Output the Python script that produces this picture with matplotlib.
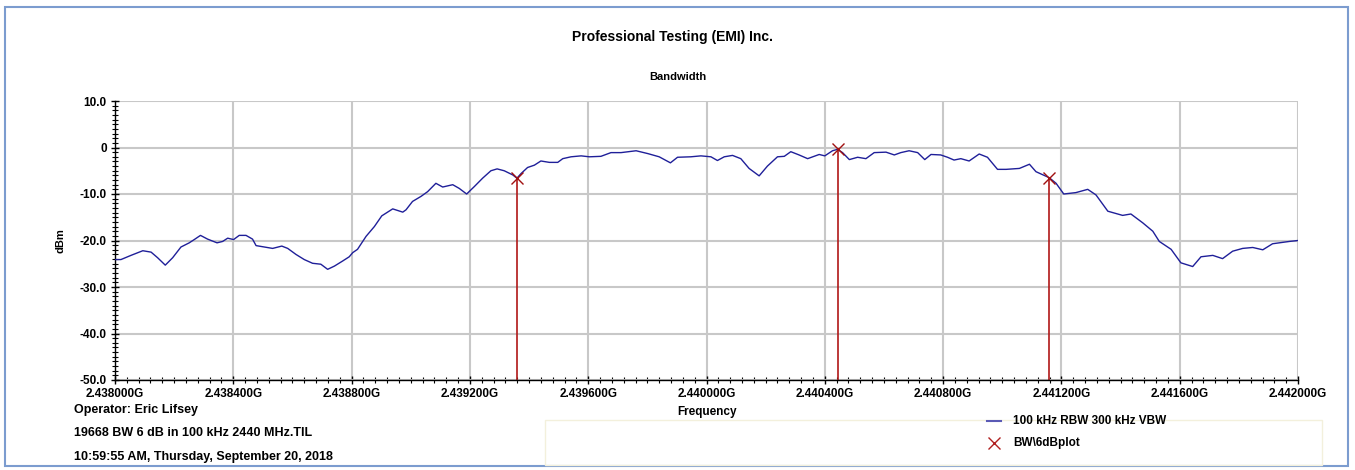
import numpy as np
import matplotlib.pyplot as plt
from matplotlib.patches import Rectangle
from matplotlib.ticker import MultipleLocator, FuncFormatter
from matplotlib.lines import Line2D

plt.rcParams['font.family'] = ['Liberation Sans', 'DejaVu Sans']
plt.rcParams['font.weight'] = 'bold'

base_mhz = 2438.0

# trace: offset from 2.438 GHz [kHz] and level [dBm]
trace_khz = [0, 20, 54, 94, 122, 144, 170, 195, 223, 251, 268, 289, 313, 345, 364, 381,
             401, 420, 443, 465, 477, 505, 533, 564, 584, 612, 640, 668, 696, 719, 742,
             770, 792, 804, 820, 849, 877, 902, 939, 973, 984, 1006, 1035, 1057, 1085,
             1108, 1142, 1164, 1189, 1215, 1243, 1271, 1292, 1316, 1345, 1359, 1373, 1395,
             1418, 1440, 1469, 1497, 1514, 1542, 1576, 1604, 1643, 1677, 1711, 1762, 1801,
             1840, 1878, 1902, 1947, 1981, 2015, 2037, 2060, 2088, 2116, 2144, 2178, 2206,
             2240, 2263, 2285, 2313, 2342, 2381, 2400, 2426, 2443, 2460, 2483, 2511, 2539,
             2567, 2607, 2635, 2657, 2685, 2714, 2738, 2759, 2792, 2815, 2837, 2860, 2888,
             2922, 2950, 2984, 3013, 3058, 3092, 3114, 3159, 3182, 3208, 3249, 3289, 3317,
             3357, 3407, 3435, 3475, 3509, 3531, 3571, 3604, 3644, 3672, 3712, 3745, 3779,
             3813, 3847, 3881, 3914, 3948, 3971, 4000]
trace_dbm = [-24.1, -24.1, -23.2, -22.2, -22.5, -23.7, -25.3, -23.7, -21.4, -20.5, -19.8,
             -18.9, -19.7, -20.5, -20.2, -19.5, -19.8, -18.9, -18.9, -19.7, -21.1, -21.4,
             -21.7, -21.2, -21.7, -23.0, -24.1, -24.9, -25.1, -26.2, -25.5, -24.4, -23.5,
             -22.6, -21.9, -19.1, -17.0, -14.7, -13.2, -13.9, -13.4, -11.6, -10.5, -9.5,
             -7.7, -8.5, -8.0, -8.8, -10.0, -8.4, -6.6, -5.0, -4.6, -5.0, -5.9, -6.6, -5.6,
             -4.3, -3.8, -2.9, -3.2, -3.2, -2.4, -2.0, -1.8, -2.0, -1.9, -1.1, -1.1, -0.7,
             -1.3, -2.0, -3.3, -2.1, -2.0, -1.8, -2.0, -2.8, -2.0, -1.7, -2.4, -4.5, -6.1,
             -4.0, -2.0, -1.9, -0.9, -1.6, -2.4, -1.5, -1.8, -0.7, -0.4, -1.1, -2.6, -2.1,
             -2.4, -1.1, -1.0, -1.6, -1.1, -0.7, -1.1, -2.6, -1.5, -1.6, -2.1, -2.7, -2.4,
             -2.9, -1.4, -2.1, -4.7, -4.7, -4.5, -3.6, -5.2, -6.5, -7.7, -10.0, -9.7, -9.0,
             -10.2, -13.7, -14.6, -14.3, -16.2, -18.0, -20.2, -21.9, -24.8, -25.6, -23.5,
             -23.2, -23.9, -22.3, -21.7, -21.5, -22.0, -20.7, -20.4, -20.2, -20.0]

# 6 dB bandwidth markers
marker_khz = [1359, 2443, 3159]
marker_dbm = [-6.6, -0.4, -6.5]

trace_label = "100 kHz RBW 300 kHz VBW"
marker_label = "BW\\6dBplot"
info_lines = ["Operator: Eric Lifsey",
              "19668 BW 6 dB in 100 kHz 2440 MHz.TIL",
              "10:59:55 AM, Thursday, September 20, 2018"]

trace_f = base_mhz + np.array(trace_khz) / 1000.0
marker_f = base_mhz + np.array(marker_khz) / 1000.0

fig = plt.figure(figsize=(13.55, 4.70), dpi=100)
fig.patches.append(Rectangle((5 / 1355, 4 / 470), 1343 / 1355, 459 / 470,
                             transform=fig.transFigure, fill=False,
                             edgecolor='#7c9ccf', linewidth=1.5))

ax = fig.add_axes([115 / 1355, 1 - 380 / 470, 1183 / 1355, 279 / 470])

ax.plot(trace_f, trace_dbm, color='#1f1f99', linewidth=1.0, zorder=3)
ax.vlines(marker_f, -50, marker_dbm, color='#b01818', linewidth=1.2, zorder=2)
ax.plot(marker_f, marker_dbm, 'x', color='#a01010', markersize=9, mew=1.0, zorder=4)

ax.set_xlim(2438.0, 2442.0)
ax.set_ylim(-50, 10)
ax.xaxis.set_major_locator(MultipleLocator(0.4))
ax.xaxis.set_minor_locator(MultipleLocator(0.04))
ax.yaxis.set_major_locator(MultipleLocator(10))
ax.yaxis.set_minor_locator(MultipleLocator(1))
ax.xaxis.set_major_formatter(FuncFormatter(lambda v, p: f"{v / 1000:.6f}G"))
ax.yaxis.set_major_formatter(FuncFormatter(lambda v, p: "0" if abs(v) < 1e-9 else f"{v:.1f}"))
ax.tick_params(axis='both', which='major', direction='inout', length=6, width=1,
               labelsize=8.5)
ax.tick_params(axis='both', which='minor', direction='inout', length=4, width=0.8)
ax.tick_params(axis='x', which='major', pad=3)
ax.tick_params(axis='y', which='major', pad=3)

ax.grid(True, which='major', color='#c8c8c8', linewidth=1.5)
ax.set_axisbelow(True)
for s in ['top', 'right']:
    ax.spines[s].set_visible(False)
ax.spines['left'].set_linewidth(1.0)
ax.spines['bottom'].set_linewidth(1.0)

ax.set_xlabel("Frequency", fontsize=8.5, fontweight='bold', labelpad=4)
ax.set_ylabel("dBm", fontsize=8, fontweight='bold', labelpad=10)

fig.text(673 / 1355, 1 - 37 / 470, "Professional Testing (EMI) Inc.", ha='center',
         va='center', fontsize=10, fontweight='bold')
fig.text(678 / 1355, 1 - 77 / 470, "Bandwidth", ha='center', va='center',
         fontsize=8, fontweight='bold')

for i, line in enumerate(info_lines):
    fig.text(74 / 1355, 1 - (410 + 23.5 * i) / 470, line, ha='left', va='center',
             fontsize=9, fontweight='bold')

# legend area
fig.patches.append(Rectangle((545 / 1355, 1 - 465 / 470), 777 / 1355, 45 / 470,
                             transform=fig.transFigure, fill=False,
                             edgecolor='#f3f0dc', linewidth=1.0))
fig.add_artist(Line2D([987 / 1355, 1001 / 1355], [1 - 421 / 470, 1 - 421 / 470],
                      transform=fig.transFigure, color='#5a5ab5', linewidth=1.5))
fig.add_artist(Line2D([994 / 1355], [1 - 443 / 470], transform=fig.transFigure,
                      marker='x', color='#b02020', markersize=9, mew=1.0))
fig.text(1013 / 1355, 1 - 421 / 470, trace_label, ha='left', va='center',
         fontsize=8.5, fontweight='bold')
fig.text(1013 / 1355, 1 - 443 / 470, marker_label, ha='left', va='center',
         fontsize=8.5, fontweight='bold')

fig.savefig('out.png', dpi=100)
